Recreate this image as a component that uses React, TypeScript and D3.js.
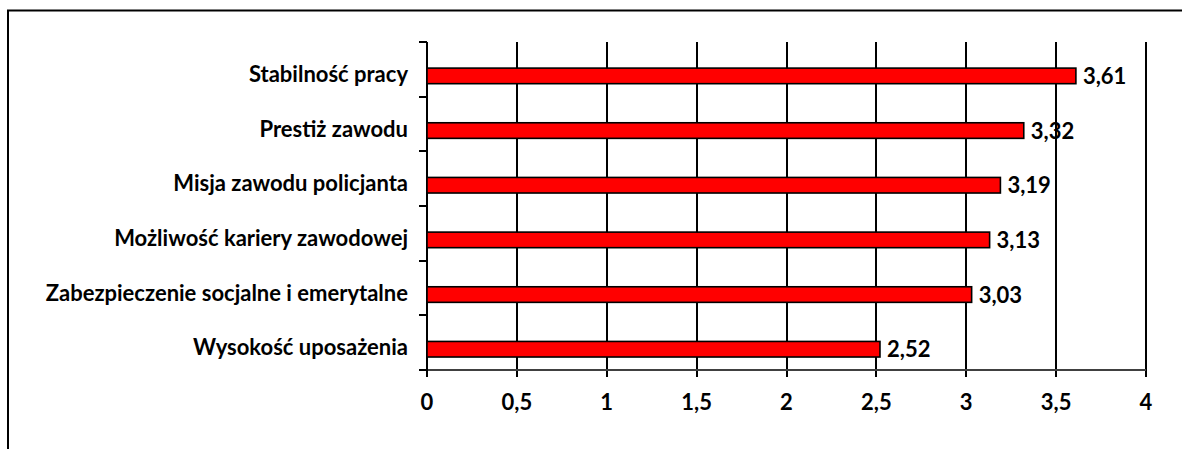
import React, { useEffect, useRef } from "react";
import * as d3 from "d3";

const categories = [
  "Stabilność pracy",
  "Prestiż zawodu",
  "Misja zawodu policjanta",
  "Możliwość kariery zawodowej",
  "Zabezpieczenie socjalne i emerytalne",
  "Wysokość uposażenia",
];
const values = [3.61, 3.32, 3.19, 3.13, 3.03, 2.52];
const xTicks = [0, 0.5, 1, 1.5, 2, 2.5, 3, 3.5, 4];

const W = 1182;
const H = 449;
const FONT = "Lato, 'Open Sans', sans-serif";

export default function App() {
  const ref = useRef<SVGSVGElement>(null);
  useEffect(() => {
    const svg = d3.select(ref.current);
    svg.selectAll("*").remove();
    const left = 427, right = 1146, top = 42, bottom = 370;
    const x = d3.scaleLinear().domain([0, 4]).range([left, right]);
    const y = d3.scaleBand<string>().domain(categories).range([top, bottom]);
    const bw = y.bandwidth();
    const fmt = (v: number) => String(v).replace(".", ",");
    const gx = (d: number) => Math.round(x(d));

    // frame
    svg.append("rect").attr("x", 8).attr("y", 10.5).attr("width", 1300).attr("height", 600)
      .attr("fill", "white").attr("stroke", "black").attr("stroke-width", 2);

    // gridlines
    svg.append("g").selectAll("line").data(xTicks.slice(1)).join("line")
      .attr("x1", gx).attr("x2", gx).attr("y1", top).attr("y2", bottom)
      .attr("stroke", "black").attr("stroke-width", 2);

    // x axis ticks
    svg.append("g").selectAll("line").data(xTicks).join("line")
      .attr("x1", gx).attr("x2", gx).attr("y1", bottom).attr("y2", bottom + 7)
      .attr("stroke", "black").attr("stroke-width", 2);
    svg.append("line").attr("x1", left - 7).attr("x2", right).attr("y1", bottom).attr("y2", bottom)
      .attr("stroke", "#404040").attr("stroke-width", 2);

    // y axis
    svg.append("line").attr("x1", left).attr("x2", left).attr("y1", top).attr("y2", bottom + 7)
      .attr("stroke", "black").attr("stroke-width", 2);
    const bounds = categories.map(c => Math.round(y(c)!)).concat([bottom]);
    svg.append("g").selectAll("line").data(bounds).join("line")
      .attr("x1", left - 8).attr("x2", left).attr("y1", d => d).attr("y2", d => d)
      .attr("stroke", "black").attr("stroke-width", 2);

    // bars
    const barH = bw * 0.285;
    const barC = (c: string) => y(c)! + bw * 0.62;
    svg.append("g").selectAll("rect").data(categories).join("rect")
      .attr("x", left).attr("y", c => barC(c) - barH / 2)
      .attr("width", (c, i) => x(values[i]) - left).attr("height", barH)
      .attr("fill", "#FF0000").attr("stroke", "black").attr("stroke-width", 1.6);

    // value labels
    svg.append("g").selectAll("text").data(categories).join("text")
      .attr("x", (c, i) => x(values[i]) + 7).attr("y", c => barC(c) + 8)
      .attr("font-family", FONT).attr("font-weight", "bold").attr("font-size", 22)
      .attr("fill", "black").text((c, i) => fmt(values[i]));

    // category labels
    svg.append("g").selectAll("text").data(categories).join("text")
      .attr("x", 408).attr("y", c => barC(c) + 6).attr("text-anchor", "end")
      .attr("font-family", FONT).attr("font-weight", "bold").attr("font-size", 22)
      .attr("fill", "black").text(c => c);

    // x tick labels
    svg.append("g").selectAll("text").data(xTicks).join("text")
      .attr("x", d => x(d)).attr("y", 410).attr("text-anchor", "middle")
      .attr("font-family", FONT).attr("font-weight", "bold").attr("font-size", 22)
      .attr("fill", "black").text(d => fmt(d));
  }, []);
  return (
    <svg ref={ref} width={W} height={H}
      style={{ position: "absolute", left: 0, top: 0, display: "block" }} />
  );
}
